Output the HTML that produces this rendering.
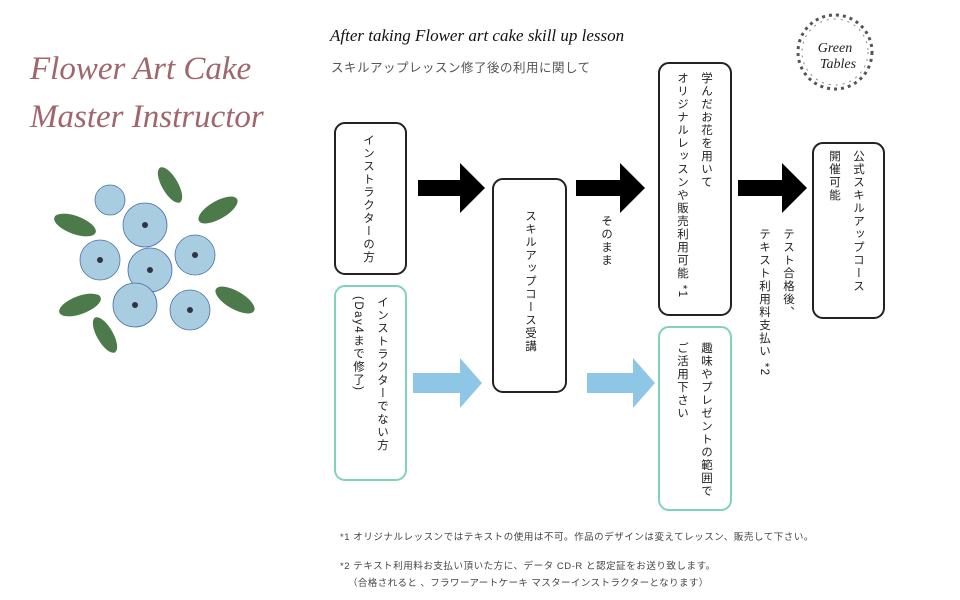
<!DOCTYPE html>
<html><head><meta charset="utf-8">
<style>
body{margin:0;width:960px;height:600px;background:#fff;position:relative;overflow:hidden;font-family:"Liberation Sans","Noto Sans CJK JP",sans-serif;}
.box{position:absolute;border:2px solid #222;border-radius:11px;box-sizing:border-box;}
.g{border-color:#7fd3bd;}
.v{position:absolute;writing-mode:vertical-rl;font-size:11.5px;color:#222;line-height:24px;letter-spacing:1.5px;white-space:nowrap;}
.t{position:absolute;white-space:nowrap;}
</style></head><body>
<div class="t" style="left:30px;top:45px;font-family:'Liberation Serif',serif;font-style:italic;font-size:33px;color:#a0666c;line-height:48px;">Flower Art Cake<br>Master Instructor</div>
<div class="t" style="left:330px;top:26px;font-family:'Liberation Serif',serif;font-style:italic;font-size:17px;color:#111;">After taking Flower art cake skill up lesson</div>
<div class="t" style="left:331px;top:57px;font-size:12.5px;color:#555;letter-spacing:0.5px;">スキルアップレッスン修了後の利用に関して</div>

<svg style="position:absolute;left:790px;top:10px" width="90" height="90">
<circle cx="45" cy="42" r="37" fill="none" stroke="#555" stroke-width="3" stroke-dasharray="3 4"/>
<circle cx="45" cy="42" r="33" fill="none" stroke="#888" stroke-width="1" stroke-dasharray="2 5"/>
<text x="45" y="42" font-family="Liberation Serif" font-style="italic" font-size="14" text-anchor="middle" fill="#222">Green</text>
<text x="48" y="58" font-family="Liberation Serif" font-style="italic" font-size="14" text-anchor="middle" fill="#222">Tables</text>
</svg>

<svg style="position:absolute;left:50px;top:165px" width="210" height="195">
<g fill="#4d7a4a">
<ellipse cx="25" cy="60" rx="22" ry="9" transform="rotate(20 25 60)"/>
<ellipse cx="120" cy="20" rx="20" ry="8" transform="rotate(60 120 20)"/>
<ellipse cx="168" cy="45" rx="22" ry="9" transform="rotate(-30 168 45)"/>
<ellipse cx="30" cy="140" rx="22" ry="9" transform="rotate(-20 30 140)"/>
<ellipse cx="185" cy="135" rx="22" ry="9" transform="rotate(30 185 135)"/>
<ellipse cx="55" cy="170" rx="20" ry="8" transform="rotate(60 55 170)"/>
</g>
<g fill="#a9cde0" stroke="#4a6fb0" stroke-width="0.8">
<circle cx="50" cy="95" r="20"/><circle cx="95" cy="60" r="22"/><circle cx="100" cy="105" r="22"/>
<circle cx="145" cy="90" r="20"/><circle cx="85" cy="140" r="22"/><circle cx="140" cy="145" r="20"/>
<circle cx="60" cy="35" r="15"/>
</g>
<g fill="#334">
<circle cx="50" cy="95" r="3"/><circle cx="95" cy="60" r="3"/><circle cx="100" cy="105" r="3"/>
<circle cx="145" cy="90" r="3"/><circle cx="85" cy="140" r="3"/><circle cx="140" cy="145" r="3"/>
</g>
</svg>

<div class="box" style="left:334px;top:122px;width:73px;height:153px;"></div>
<div class="v" style="left:356px;top:134px;">インストラクターの方</div>
<div class="box g" style="left:334px;top:285px;width:73px;height:196px;"></div>
<div class="v" style="left:346px;top:296px;">インストラクターでない方<br>(Day4まで修了)</div>

<div class="box" style="left:492px;top:178px;width:75px;height:215px;"></div>
<div class="v" style="left:518px;top:210px;">スキルアップコース受講</div>

<div class="box" style="left:658px;top:62px;width:74px;height:254px;"></div>
<div class="v" style="left:670px;top:72px;">学んだお花を用いて<br>オリジナルレッスンや販売利用可能 *1</div>
<div class="box g" style="left:658px;top:326px;width:74px;height:185px;"></div>
<div class="v" style="left:670px;top:342px;">趣味やプレゼントの範囲で<br>ご活用下さい</div>

<div class="box" style="left:812px;top:142px;width:73px;height:177px;"></div>
<div class="v" style="left:822px;top:150px;">公式スキルアップコース<br>開催可能</div>

<div class="v" style="left:594px;top:215px;">そのまま</div>
<div class="v" style="left:752px;top:228px;">テスト合格後、<br>テキスト利用料支払い *2</div>

<svg style="position:absolute;left:0;top:0" width="960" height="600">
<g fill="#000">
<polygon points="418,180 460,180 460,163 485,188 460,213 460,196 418,196"/>
<polygon points="576,180 620,180 620,163 645,188 620,213 620,196 576,196"/>
<polygon points="738,180 782,180 782,163 807,188 782,213 782,196 738,196"/>
</g>
<g fill="#8ec6e6">
<polygon points="413,373 460,373 460,358 482,383 460,408 460,393 413,393"/>
<polygon points="587,373 633,373 633,358 655,383 633,408 633,393 587,393"/>
</g>
</svg>

<div class="t" style="left:340px;top:529px;font-size:9.5px;color:#444;letter-spacing:0.55px;">*1 オリジナルレッスンではテキストの使用は不可。作品のデザインは変えてレッスン、販売して下さい。</div>
<div class="t" style="left:340px;top:558px;font-size:9.5px;color:#444;letter-spacing:0.55px;">*2 テキスト利用料お支払い頂いた方に、データ CD-R と認定証をお送り致します。</div>
<div class="t" style="left:348px;top:575px;font-size:9.5px;color:#444;letter-spacing:0.4px;">（合格されると 、フラワーアートケーキ マスターインストラクターとなります）</div>
</body></html>
